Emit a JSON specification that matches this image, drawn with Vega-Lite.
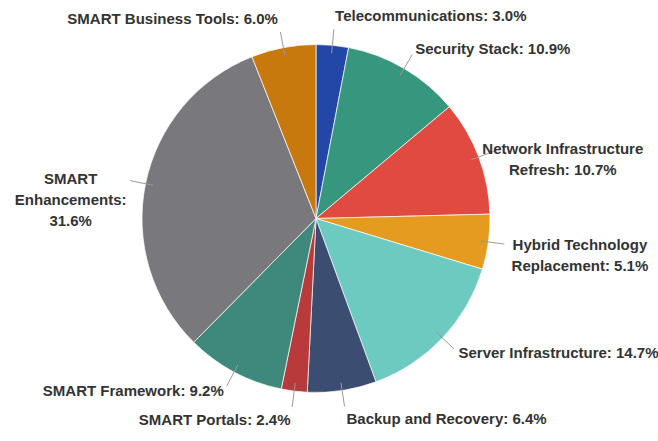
{
  "$schema": "https://vega.github.io/schema/vega-lite/v6.json",
  "width": 658,
  "height": 441,
  "autosize": {"type": "none"},
  "padding": 0,
  "background": "white",
  "config": {"view": {"stroke": null}},
  "data": {
    "values": [
      {"order": 1, "name": "Telecommunications", "value": 3.0, "label": "Telecommunications: 3.0%"},
      {"order": 2, "name": "Security Stack", "value": 10.9, "label": "Security Stack: 10.9%"},
      {"order": 3, "name": "Network Infrastructure Refresh", "value": 10.7, "label": "Network Infrastructure\nRefresh: 10.7%"},
      {"order": 4, "name": "Hybrid Technology Replacement", "value": 5.1, "label": "Hybrid Technology\nReplacement: 5.1%"},
      {"order": 5, "name": "Server Infrastructure", "value": 14.7, "label": "Server Infrastructure: 14.7%"},
      {"order": 6, "name": "Backup and Recovery", "value": 6.4, "label": "Backup and Recovery: 6.4%"},
      {"order": 7, "name": "SMART Portals", "value": 2.4, "label": "SMART Portals: 2.4%"},
      {"order": 8, "name": "SMART Framework", "value": 9.2, "label": "SMART Framework: 9.2%"},
      {"order": 9, "name": "SMART Enhancements", "value": 31.6, "label": "SMART\nEnhancements:\n31.6%"},
      {"order": 10, "name": "SMART Business Tools", "value": 6.0, "label": "SMART Business Tools: 6.0%"}
    ]
  },
  "transform": [
    {"stack": "value", "groupby": [], "sort": [{"field": "order"}], "as": ["v0", "v1"]},
    {"calculate": "(datum.v0 + datum.v1) / 100 * PI", "as": "mid"},
    {"calculate": "sin(datum.mid)", "as": "s"},
    {"calculate": "cos(datum.mid)", "as": "c"},
    {"calculate": "166 * datum.s", "as": "lx1"},
    {"calculate": "166 * datum.c", "as": "ly1"},
    {"calculate": "190 * datum.s", "as": "lx2"},
    {"calculate": "190 * datum.c", "as": "ly2"},
    {"calculate": "indexof(datum.label, '\\n') >= 0", "as": "multi"},
    {"calculate": "split(datum.label, '\\n')", "as": "lines"},
    {"calculate": "max(length(datum.lines[0]), length(datum.lines[1] || ''), length(datum.lines[2] || ''))", "as": "maxLen"},
    {"calculate": "8.2 * datum.maxLen", "as": "est"},
    {"calculate": "abs(datum.c) > 0.95 ? 203 : 196", "as": "tr"},
    {"calculate": "datum.tr * datum.s", "as": "tx"},
    {"calculate": "datum.tr * datum.c", "as": "ty"},
    {"calculate": "datum.s >= 0 ? min(datum.tx, 337 - datum.est) + datum.est / 2 : datum.tx - datum.est / 2", "as": "txc"}
  ],
  "layer": [
    {
      "mark": {"type": "arc", "outerRadius": 174, "stroke": "#ffffff", "strokeWidth": 0.7},
      "encoding": {
        "x": {"datum": 0, "type": "quantitative", "scale": {"domain": [-316, 342], "nice": false, "zero": false}, "axis": null},
        "y": {"datum": 0, "type": "quantitative", "scale": {"domain": [-222.5, 218.5], "nice": false, "zero": false}, "axis": null},
        "theta": {"field": "v0", "type": "quantitative", "scale": {"domain": [0, 100], "range": [0, 6.283185307]}},
        "theta2": {"field": "v1"},
        "color": {
          "field": "name",
          "type": "nominal",
          "scale": {
            "domain": ["Telecommunications", "Security Stack", "Network Infrastructure Refresh", "Hybrid Technology Replacement", "Server Infrastructure", "Backup and Recovery", "SMART Portals", "SMART Framework", "SMART Enhancements", "SMART Business Tools"],
            "range": ["#2347a6", "#36977e", "#e04a41", "#e59a20", "#6dcac1", "#3b4d70", "#b93a3a", "#3f897c", "#79797d", "#c8790d"]
          },
          "legend": null
        }
      }
    },
    {
      "mark": {"type": "rule", "color": "#9a9a9a", "strokeWidth": 1},
      "encoding": {
        "x": {"field": "lx1", "type": "quantitative"},
        "y": {"field": "ly1", "type": "quantitative"},
        "x2": {"field": "lx2"},
        "y2": {"field": "ly2"}
      }
    },
    {
      "transform": [{"filter": "datum.s >= 0 && !datum.multi"}],
      "mark": {"type": "text", "align": "left", "baseline": "middle", "font": "Liberation Sans, Arial, sans-serif", "fontSize": 15, "fontWeight": "bold", "color": "#333333"},
      "encoding": {
        "x": {"field": "tx", "type": "quantitative"},
        "y": {"field": "ty", "type": "quantitative"},
        "text": {"field": "label"}
      }
    },
    {
      "transform": [{"filter": "datum.s < 0 && !datum.multi"}],
      "mark": {"type": "text", "align": "right", "baseline": "middle", "font": "Liberation Sans, Arial, sans-serif", "fontSize": 15, "fontWeight": "bold", "color": "#333333"},
      "encoding": {
        "x": {"field": "tx", "type": "quantitative"},
        "y": {"field": "ty", "type": "quantitative"},
        "text": {"field": "label"}
      }
    },
    {
      "transform": [{"filter": "datum.multi"}],
      "mark": {"type": "text", "align": "center", "baseline": "middle", "font": "Liberation Sans, Arial, sans-serif", "fontSize": 15, "fontWeight": "bold", "color": "#333333", "lineBreak": "\n", "lineHeight": 21},
      "encoding": {
        "x": {"field": "txc", "type": "quantitative"},
        "y": {"field": "ty", "type": "quantitative"},
        "text": {"field": "label"}
      }
    }
  ]
}
